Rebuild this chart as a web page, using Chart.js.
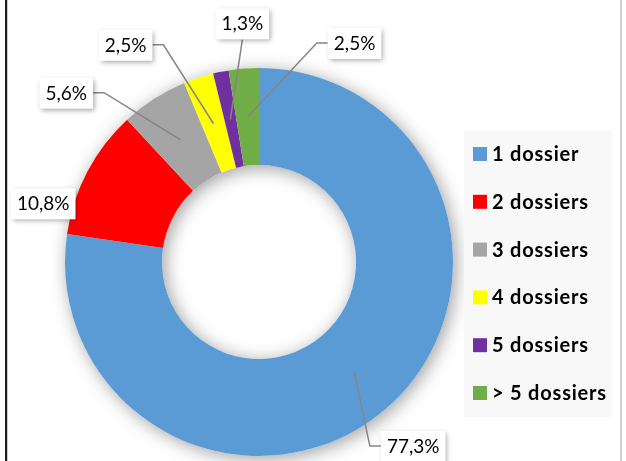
<!DOCTYPE html>
<html lang="fr">
<head>
<meta charset="UTF-8">
<title>Répartition par nombre de dossiers</title>
<script src="https://cdn.jsdelivr.net/npm/chart.js"></script>
<style>
    body { margin: 0; background: #fff; }
    #wrap { width: 626px; height: 461px; }
</style>
</head>
<body>
<div id="wrap"><canvas id="donut" width="626" height="461"></canvas></div>
<script>
    // data
    const categories = ['1 dossier', '2 dossiers', '3 dossiers', '4 dossiers', '5 dossiers', '> 5 dossiers'];
    const shares = [77.3, 10.8, 5.6, 2.5, 1.3, 2.5];
    const sliceColors = ['#5B9BD5', '#FF0000', '#A5A5A5', '#FFFF00', '#7030A0', '#70AD47'];

    // callout placement (text centre relative to slice centroid) and leader attach side
    const calloutOffsets = [[59, 74], [-87, 9], [-114, -47], [-88, -79], [12, -96], [107, -74]];
    const calloutSides = ['left', 'none', 'right', 'right', 'bottom', 'left'];

    const fmt = v => v.toFixed(1).replace('.', ',') + '%';

    const framePlugin = {
        id: 'frame',
        beforeDraw(chart) {
            const ctx = chart.ctx;
            ctx.save();
            ctx.fillStyle = '#fff';
            ctx.fillRect(0, 0, chart.width, chart.height);
            ctx.fillStyle = '#1e1e1e';
            ctx.fillRect(5, 0, 2, chart.height);
            ctx.fillStyle = '#c8c8c8';
            ctx.fillRect(7, 0, 1, chart.height);
            ctx.fillStyle = '#d0d0d0';
            ctx.fillRect(620, 0, 2, chart.height);
            ctx.restore();
        }
    };

    // soft shadow behind the ring
    const ringShadow = {
        id: 'ringShadow',
        beforeDatasetsDraw(chart) {
            const arc = chart.getDatasetMeta(0).data[0];
            if (!arc) return;
            const {x, y, outerRadius, innerRadius} = arc.getProps(['x', 'y', 'outerRadius', 'innerRadius'], true);
            const ctx = chart.ctx;
            ctx.save();
            ctx.shadowColor = 'rgba(0,0,0,0.38)';
            ctx.shadowBlur = 18;
            ctx.shadowOffsetX = 3;
            ctx.shadowOffsetY = 3;
            ctx.fillStyle = '#fff';
            ctx.beginPath();
            ctx.arc(x, y, outerRadius, 0, Math.PI * 2);
            ctx.arc(x, y, innerRadius, 0, Math.PI * 2, true);
            ctx.fill('evenodd');
            ctx.restore();
        }
    };

    const callouts = {
        id: 'callouts',
        afterDatasetsDraw(chart) {
            const ctx = chart.ctx;
            const meta = chart.getDatasetMeta(0);
            ctx.save();
            ctx.font = '19px Lato, "Open Sans", sans-serif';
            meta.data.forEach((arc, i) => {
                const p = arc.tooltipPosition(true);
                const [dx, dy] = calloutOffsets[i];
                const cx = p.x + dx, cy = p.y + dy;
                const txt = fmt(shares[i]);
                const w = ctx.measureText(txt).width;
                const bx = cx - w / 2 - 6, bw = w + 12, by = cy - 15, bh = 31;

                // leader line
                const side = calloutSides[i];
                if (side !== 'none') {
                    ctx.strokeStyle = '#858585';
                    ctx.lineWidth = 1.5;
                    ctx.beginPath();
                    if (side === 'left') {
                        ctx.moveTo(bx, cy);
                        ctx.lineTo(bx - 11, cy);
                    } else if (side === 'right') {
                        ctx.moveTo(bx + bw, cy);
                        ctx.lineTo(bx + bw + 11, cy);
                    } else {
                        ctx.moveTo(cx, by + bh);
                    }
                    ctx.lineTo(p.x, p.y);
                    ctx.stroke();
                }

                // box
                ctx.save();
                ctx.shadowColor = 'rgba(0,0,0,0.35)';
                ctx.shadowBlur = 5;
                ctx.shadowOffsetX = 2;
                ctx.shadowOffsetY = 2;
                ctx.fillStyle = '#fff';
                ctx.fillRect(bx, by, bw, bh);
                ctx.restore();

                ctx.fillStyle = '#000';
                ctx.textAlign = 'center';
                ctx.textBaseline = 'alphabetic';
                ctx.fillText(txt, cx, cy + 7);
            });
            ctx.restore();
        }
    };

    const sideLegend = {
        id: 'sideLegend',
        afterDraw(chart) {
            const ctx = chart.ctx;
            ctx.save();
            ctx.fillStyle = '#f8f8f8';
            ctx.fillRect(464, 130, 148, 287);
            ctx.font = 'bold 20px Lato, "Open Sans", sans-serif';
            ctx.letterSpacing = '0.8px';
            ctx.textBaseline = 'alphabetic';
            ctx.textAlign = 'left';
            categories.forEach((label, i) => {
                const yc = 154 + i * 47.8;
                ctx.fillStyle = sliceColors[i];
                ctx.fillRect(473, yc - 7, 14, 14);
                ctx.fillStyle = '#000';
                ctx.fillText(label, 492, yc + 7);
            });
            ctx.restore();
        }
    };

    new Chart(document.getElementById('donut'), {
        type: 'doughnut',
        data: {
            labels: categories,
            datasets: [{
                data: shares,
                backgroundColor: sliceColors,
                borderWidth: 0
            }]
        },
        options: {
            responsive: false,
            animation: false,
            cutout: '50%',
            layout: { padding: { left: 65, right: 173, top: 68, bottom: 5 } },
            plugins: {
                legend: { display: false },
                tooltip: { enabled: false }
            }
        },
        plugins: [framePlugin, ringShadow, callouts, sideLegend]
    });
</script>
</body>
</html>
